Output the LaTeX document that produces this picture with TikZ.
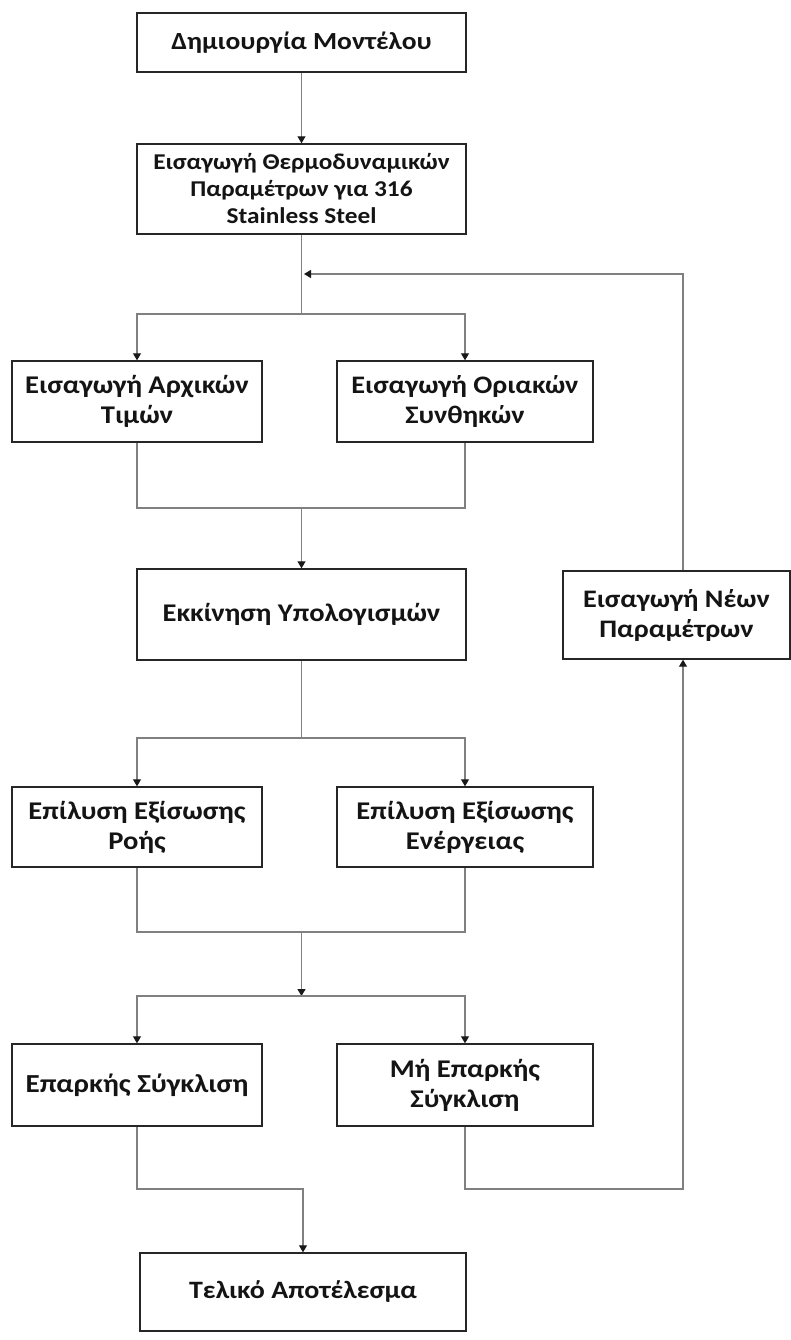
\documentclass[tikz,border=0pt]{standalone}
\usepackage{fontspec}
\setmainfont{Carlito}[FakeStretch=1.12]
\usetikzlibrary{arrows.meta}
\begin{document}
\begin{tikzpicture}[x=1pt,y=-1pt,
  fs/.style 2 args={font=\bfseries\fontsize{#1}{#2}\selectfont},
  box/.style={draw=black!85, line width=1.4pt, fill=white, align=center,
    inner sep=0pt, fs={25.5}{30}, text=black!92},
  link/.style={draw=black!50, line width=1.1pt},
  arr/.style={link, -{Triangle[length=7pt,width=8pt,color=black!90]}},
]
\useasboundingbox (0,0) rectangle (791,1340);
\fill[white] (0,0) rectangle (791,1340);

% process boxes
\node[box, fs={24.6}{30}, minimum width=329, minimum height=59] (A) at (301.5,42.5) {Δημιουργία Μοντέλου};
\node[box, fs={22.6}{27}, minimum width=329, minimum height=90] (B) at (301.5,189) {Εισαγωγή Θερμοδυναμικών\\Παραμέτρων για 316\\Stainless Steel};
\node[box, minimum width=250, minimum height=81] (C) at (137,401.5) {Εισαγωγή Αρχικών\\Τιμών};
\node[box, fs={25.2}{30}, minimum width=256, minimum height=81] (D) at (465,401.5) {Εισαγωγή Οριακών\\Συνθηκών};
\node[box, minimum width=329, minimum height=91] (E) at (301.5,614.5) {Εκκίνηση Υπολογισμών};
\node[box, minimum width=250, minimum height=80] (F) at (137,827) {Επίλυση Εξίσωσης\\Ροής};
\node[box, minimum width=256, minimum height=80] (G) at (465,827) {Επίλυση Εξίσωσης\\Ενέργειας};
\node[box, fs={26}{30}, minimum width=250, minimum height=82] (H) at (137,1085) {Επαρκής Σύγκλιση};
\node[box, minimum width=256, minimum height=82] (I) at (465,1085) {Μή Επαρκής\\Σύγκλιση};
\node[box, fs={25}{30}, minimum width=326, minimum height=78] (J) at (303,1292) {Τελικό Αποτέλεσμα};
\node[box, fs={25.2}{30}, minimum width=227, minimum height=88] (K) at (676.5,615) {Εισαγωγή Νέων\\Παραμέτρων};

% junction points
\coordinate (split1) at (301.5,314);
\coordinate (retin) at (304,274);
\coordinate (ret) at (683,274);
\coordinate (merge1) at (301.5,508);
\coordinate (split2) at (301.5,738);
\coordinate (merge2) at (301.5,932);
\coordinate (split3) at (301.5,996);
\coordinate (toend) at (303,1189);
\coordinate (retbot) at (683,1189);

% connectors
\draw[arr] (A) -- (B);
\draw[link] (B.south) -- (split1);
\draw[arr] (split1) -| (C.north);
\draw[arr] (split1) -| (D.north);
\draw[arr] (K.north -| ret) -- (ret) -- (retin);

\draw[link] (C.south) |- (merge1) -| (D.south);
\draw[arr] (merge1) -- (E.north);

\draw[link] (E.south) -- (split2);
\draw[arr] (split2) -| (F.north);
\draw[arr] (split2) -| (G.north);

\draw[link] (F.south) |- (merge2) -| (G.south);
\draw[arr] (merge2) -- (split3);
\draw[arr] (split3) -| (H.north);
\draw[arr] (split3) -| (I.north);

\draw[arr] (H.south) |- (toend) -- (J.north);
\draw[arr] (I.south) |- (retbot) -- (K.south -| retbot);
\end{tikzpicture}
\end{document}
